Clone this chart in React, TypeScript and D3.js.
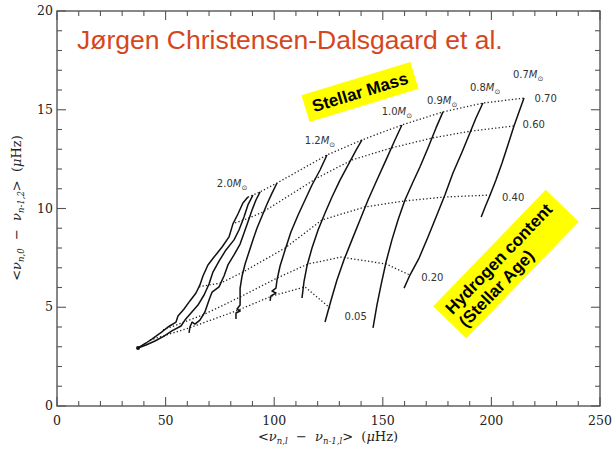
import React from 'react';
import * as d3 from 'd3';

type Pt = [number, number];

// Axis ticks
const xTicks = [0, 50, 100, 150, 200, 250];
const yTicks = [0, 5, 10, 15, 20];

// Evolution tracks (large separation, small separation), from ZAMS downwards
const track20: Pt[] = [[87.9, 10.58], [85.6, 10.28], [83.3, 9.72], [81.0, 9.22], [79.2, 8.56], [76.0, 8.05], [72.3, 7.54], [69.5, 7.14], [67.2, 6.58], [65.8, 6.13], [64.0, 5.72], [61.2, 5.32], [58.5, 4.91], [55.7, 4.56], [54.8, 4.25], [51.1, 4.0], [48.3, 3.75], [43.7, 3.39], [41.0, 3.19], [37.3, 2.94]];
const track18: Pt[] = [[90.2, 10.68], [87.9, 10.18], [86.1, 9.57], [83.8, 8.91], [81.5, 8.41], [77.8, 7.9], [74.6, 7.34], [71.8, 6.78], [70.0, 6.18], [67.7, 5.62], [64.9, 5.11], [61.7, 4.71], [58.9, 4.35], [57.1, 4.05], [52.9, 3.8], [49.3, 3.54], [45.1, 3.29], [41.0, 3.09], [37.3, 2.94]];
const track16: Pt[] = [[93.5, 10.84], [91.6, 10.43], [89.8, 9.92], [87.9, 9.32], [86.1, 8.76], [84.3, 8.2], [81.5, 7.65], [78.7, 7.14], [76.9, 6.58], [74.6, 6.03], [71.4, 5.77], [70.0, 5.37], [68.1, 4.76], [65.8, 4.35], [63.5, 4.15], [62.2, 4.25], [61.2, 4.0], [60.8, 3.7]];
const track14: Pt[] = [[101.3, 11.29], [99.0, 10.78], [96.7, 10.23], [94.4, 9.62], [92.1, 9.01], [90.2, 8.41], [88.4, 7.8], [86.6, 7.19], [85.2, 6.58], [84.3, 5.97], [84.3, 5.47], [84.3, 5.11], [82.9, 4.91], [84.3, 4.81], [82.4, 4.71], [82.4, 4.41]];
const track12: Pt[] = [[124.3, 12.71], [121.1, 11.95], [117.4, 11.19], [114.2, 10.43], [111.0, 9.67], [107.7, 8.81], [105.0, 7.9], [102.7, 7.09], [101.3, 6.38], [100.8, 5.97], [99.0, 5.82], [100.8, 5.72], [98.5, 5.57], [98.1, 5.32]];
const track11: Pt[] = [[140.4, 13.47], [137.7, 12.96], [134.0, 12.2], [130.3, 11.44], [126.6, 10.58], [123.4, 9.77], [120.2, 8.91], [117.4, 8.0], [115.1, 7.09], [113.7, 6.28], [112.8, 5.47]];
const track10: Pt[] = [[158.8, 14.23], [155.6, 13.47], [151.5, 12.46], [147.3, 11.44], [143.2, 10.43], [139.5, 9.42], [135.8, 8.41], [132.1, 7.39], [128.9, 6.38], [126.2, 5.37], [123.4, 4.25]];
const track09: Pt[] = [[177.7, 14.89], [174.5, 14.08], [170.8, 13.06], [167.1, 12.1], [163.9, 11.34], [160.2, 10.43], [157.0, 9.42], [154.2, 8.41], [151.5, 7.29], [149.2, 6.13], [147.3, 5.11], [145.5, 3.95]];
const track08: Pt[] = [[196.1, 15.34], [192.9, 14.58], [190.1, 13.82], [186.5, 12.86], [182.3, 11.8], [178.6, 10.68], [174.9, 9.67], [170.8, 8.56], [166.7, 7.49], [162.5, 6.63], [159.8, 5.97]];
const track07: Pt[] = [[215.0, 15.59], [212.7, 14.89], [210.4, 14.18], [207.6, 13.22], [204.9, 12.3], [202.1, 11.44], [199.4, 10.68], [197.1, 10.08], [195.3, 9.57]];

// Lines of constant central hydrogen content (dotted)
const xc070: Pt[] = [[87.9, 10.58], [90.2, 10.68], [93.5, 10.84], [101.3, 11.29], [124.3, 12.71], [140.4, 13.47], [158.8, 14.23], [177.7, 14.89], [196.1, 15.34], [215.0, 15.59]];
const xc060: Pt[] = [[82.0, 9.27], [84.7, 9.37], [88.4, 9.52], [94.8, 9.82], [119.7, 11.54], [135.8, 12.46], [153.8, 13.06], [172.7, 13.57], [190.6, 13.92], [210.4, 14.18]];
const xc040: Pt[] = [[65.4, 6.03], [70.0, 6.13], [75.5, 6.23], [85.6, 6.78], [105.0, 8.0], [122.0, 9.42], [141.8, 10.08], [159.8, 10.38], [178.2, 10.58], [199.4, 10.68]];
const xc020: Pt[] = [[48.8, 3.85], [67.2, 4.61], [84.3, 5.52], [101.3, 6.48], [115.6, 7.19], [130.8, 7.54], [151.5, 7.19], [162.5, 6.63]];
const xc005: Pt[] = [[42.8, 3.34], [60.8, 3.95], [82.4, 4.81], [99.0, 5.57], [114.2, 6.03], [125.7, 4.96]];

const tracks = [track20, track18, track16, track14, track12, track11, track10, track09, track08, track07];
const xcLines = [xc070, xc060, xc040, xc020, xc005];

// Annotations (text, anchor in data units)
const massLabels: { m: string; at: Pt }[] = [
  { m: '2.0', at: [80.6, 11.29] },
  { m: '1.2', at: [121.1, 13.42] },
  { m: '1.0', at: [156.5, 14.89] },
  { m: '0.9', at: [177.3, 15.49] },
  { m: '0.8', at: [197.1, 16.15] },
  { m: '0.7', at: [216.9, 16.76] },
];
const xcLabels: { t: string; at: Pt }[] = [
  { t: '0.70', at: [225.0, 15.59] },
  { t: '0.60', at: [219.5, 14.23] },
  { t: '0.40', at: [210.0, 10.58] },
  { t: '0.20', at: [172.8, 6.53] },
  { t: '0.05', at: [137.5, 4.51] },
];

const W = 612;
const H = 457;

const App: React.FC = () => {
  const x = d3.scaleLinear().domain([0, 250]).range([57, 600]);
  const y = d3.scaleLinear().domain([0, 20]).range([406, 11]);
  const line = d3.line<Pt>().x((d) => x(d[0])).y((d) => y(d[1]));

  const xMinor = d3.range(0, 251, 10);
  const yMinor = d3.range(0, 21, 1);
  const [x0, x1] = x.range();
  const [y0, y1] = y.range();
  const axisColor = '#555';
  const serif = 'DejaVu Serif, serif';
  const sans = 'DejaVu Sans, sans-serif';
  const arial = 'Liberation Sans, Arial, sans-serif';
  const pre = { whiteSpace: 'pre' as const };

  return (
    <svg width={W} height={H} style={{ position: 'absolute', left: 0, top: 0, background: '#fff' }}>
      <rect width={W} height={H} fill="#fff" />

      {/* frame */}
      <rect x={x0} y={y1} width={x1 - x0} height={y0 - y1} fill="none" stroke={axisColor} strokeWidth={1.4} />

      {/* ticks on all four sides */}
      <g stroke={axisColor} strokeWidth={1.1}>
        {xMinor.map((v) => {
          const len = v % 50 === 0 ? 9 : 5;
          return (
            <g key={'xt' + v}>
              <line x1={x(v)} x2={x(v)} y1={y0} y2={y0 - len} />
              <line x1={x(v)} x2={x(v)} y1={y1} y2={y1 + len} />
            </g>
          );
        })}
        {yMinor.map((v) => {
          const len = v % 5 === 0 ? 9 : 5;
          return (
            <g key={'yt' + v}>
              <line x1={x0} x2={x0 + len} y1={y(v)} y2={y(v)} />
              <line x1={x1} x2={x1 - len} y1={y(v)} y2={y(v)} />
            </g>
          );
        })}
      </g>

      {/* tick labels */}
      <g fontFamily={serif} fontSize={12.5} fill="#222">
        {xTicks.map((v) => (
          <text key={'xl' + v} x={x(v)} y={y0 + 19} textAnchor="middle">{v}</text>
        ))}
        {yTicks.map((v) => (
          <text key={'yl' + v} x={x0 - 4} y={y(v) + 4} textAnchor="end">{v}</text>
        ))}
      </g>

      {/* axis titles */}
      <text x={328} y={441} textAnchor="middle" fontFamily={serif} fontSize={13} fill="#222" style={pre}>
        {'<'}<tspan fontStyle="italic">ν</tspan>
        <tspan fontSize={8.5} dy={2.5} fontStyle="italic">n,l</tspan>
        <tspan dy={-2.5}>{'  −  '}</tspan>
        <tspan fontStyle="italic">ν</tspan>
        <tspan fontSize={8.5} dy={2.5} fontStyle="italic">n-1,l</tspan>
        <tspan dy={-2.5}>{'>  ('}</tspan>
        <tspan fontStyle="italic">μ</tspan>
        <tspan>Hz)</tspan>
      </text>
      <text
        transform="translate(21,208) rotate(-90)"
        textAnchor="middle"
        fontFamily={serif}
        fontSize={13}
        fill="#222"
        style={pre}
      >
        {'<'}<tspan fontStyle="italic">ν</tspan>
        <tspan fontSize={8.5} dy={2.5} fontStyle="italic">n,0</tspan>
        <tspan dy={-2.5}>{'  −  '}</tspan>
        <tspan fontStyle="italic">ν</tspan>
        <tspan fontSize={8.5} dy={2.5} fontStyle="italic">n-1,2</tspan>
        <tspan dy={-2.5}>{'>  ('}</tspan>
        <tspan fontStyle="italic">μ</tspan>
        <tspan>Hz)</tspan>
      </text>

      {/* title */}
      <text x={77} y={49} fontFamily={arial} fontSize={26.5} fill="#d6461d">
        Jørgen Christensen-Dalsgaard et al.
      </text>

      {/* constant hydrogen content lines */}
      <g fill="none" stroke="#222" strokeWidth={1.3} strokeDasharray="1.3 2.2">
        {xcLines.map((d, i) => (
          <path key={'xc' + i} d={line(d) ?? ''} />
        ))}
      </g>

      {/* evolution tracks */}
      <g fill="none" stroke="#111" strokeWidth={1.5} strokeLinejoin="round">
        {tracks.map((d, i) => (
          <path key={'tr' + i} d={line(d) ?? ''} />
        ))}
      </g>
      <circle cx={x(track20[track20.length - 1][0])} cy={y(track20[track20.length - 1][1])} r={2} fill="#111" />

      {/* mass and hydrogen-content labels */}
      <g fontFamily={sans} fontSize={10} fill="#333">
        {massLabels.map((l) => (
          <text key={'ml' + l.m} x={x(l.at[0])} y={y(l.at[1]) + 3.5} textAnchor="middle">
            {l.m}
            <tspan fontStyle="italic">M</tspan>
            <tspan fontSize={7} dy={3}>⊙</tspan>
          </text>
        ))}
        {xcLabels.map((l) => (
          <text key={'xl' + l.t} x={x(l.at[0])} y={y(l.at[1]) + 3.5} textAnchor="middle">{l.t}</text>
        ))}
      </g>

      {/* highlight boxes */}
      <g transform="translate(360,92) rotate(-17)">
        <rect x={-57} y={-14} width={114} height={28} fill="#ffff00" />
        <text x={0} y={6} textAnchor="middle" fontFamily={arial} fontWeight="bold" fontSize={17} fill="#000">
          Stellar Mass
        </text>
      </g>
      <g transform="translate(506,264) rotate(-46)">
        <rect x={-81} y={-23} width={162} height={46} fill="#ffff00" />
        <g fontFamily={arial} fontWeight="bold" fontSize={17} fill="#000">
          <text x={-74} y={-3}>Hydrogen content</text>
          <text x={-74} y={16}>(Stellar Age)</text>
        </g>
      </g>
    </svg>
  );
};

export default App;
